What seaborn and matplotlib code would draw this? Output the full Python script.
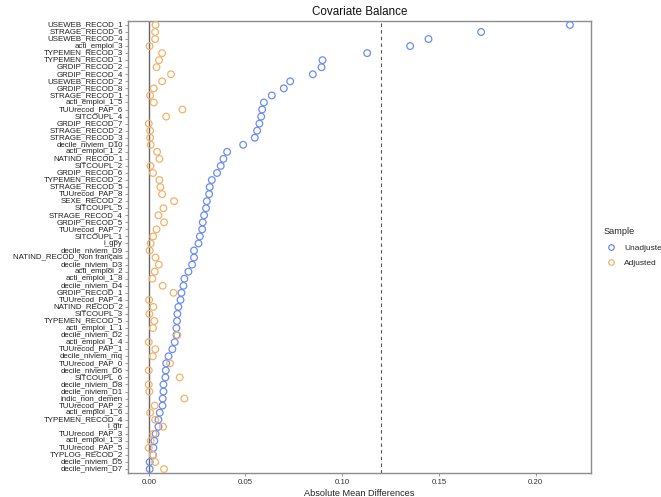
import pandas as pd
import matplotlib
matplotlib.use("Agg")
import matplotlib.pyplot as plt
from matplotlib.lines import Line2D
import seaborn as sns

covariates = [
    "USEWEB_RECOD_1", "STRAGE_RECOD_6", "USEWEB_RECOD_4", "acti_emploi_3",
    "TYPEMEN_RECOD_3", "TYPEMEN_RECOD_1", "GRDIP_RECOD_2", "GRDIP_RECOD_4",
    "USEWEB_RECOD_2", "GRDIP_RECOD_8", "STRAGE_RECOD_1", "acti_emploi_1_5",
    "TUUrecod_PAP_6", "SITCOUPL_4", "GRDIP_RECOD_7", "STRAGE_RECOD_2",
    "STRAGE_RECOD_3", "decile_niviem_D10", "acti_emploi_1_2", "NATIND_RECOD_1",
    "SITCOUPL_2", "GRDIP_RECOD_6", "TYPEMEN_RECOD_2", "STRAGE_RECOD_5",
    "TUUrecod_PAP_8", "SEXE_RECOD_2", "SITCOUPL_5", "STRAGE_RECOD_4",
    "GRDIP_RECOD_5", "TUUrecod_PAP_7", "SITCOUPL_1", "i_gpy",
    "decile_niviem_D9", "NATIND_RECOD_Non français", "decile_niviem_D3", "acti_emploi_2",
    "acti_emploi_1_8", "decile_niviem_D4", "GRDIP_RECOD_1", "TUUrecod_PAP_4",
    "NATIND_RECOD_2", "SITCOUPL_3", "TYPEMEN_RECOD_5", "acti_emploi_1_1",
    "decile_niviem_D2", "acti_emploi_1_4", "TUUrecod_PAP_1", "decile_niviem_mq",
    "TUUrecod_PAP_0", "decile_niviem_D6", "SITCOUPL_6", "decile_niviem_D8",
    "decile_niviem_D1", "indic_non_demen", "TUUrecod_PAP_2", "acti_emploi_1_6",
    "TYPEMEN_RECOD_4", "i_gtr", "TUUrecod_PAP_3", "acti_emploi_1_3",
    "TUUrecod_PAP_5", "TYPLOG_RECOD_2", "decile_niviem_D5", "decile_niviem_D7",
]

unadjusted = [
    0.2177, 0.1718, 0.1446, 0.1351, 0.1129, 0.0898, 0.0893, 0.0848,
    0.0731, 0.0698, 0.0636, 0.0595, 0.0586, 0.0581, 0.0572, 0.0560,
    0.0548, 0.0488, 0.0405, 0.0386, 0.0372, 0.0353, 0.0326, 0.0315,
    0.0312, 0.0300, 0.0296, 0.0286, 0.0279, 0.0276, 0.0264, 0.0257,
    0.0234, 0.0234, 0.0224, 0.0205, 0.0184, 0.0179, 0.0169, 0.0164,
    0.0153, 0.0148, 0.0146, 0.0143, 0.0143, 0.0134, 0.0122, 0.0102,
    0.0090, 0.0088, 0.0086, 0.0076, 0.0076, 0.0072, 0.0071, 0.0057,
    0.0050, 0.0050, 0.0035, 0.0029, 0.0024, 0.0022, 0.0005, 0.0005,
]

adjusted = [
    0.0035, 0.0033, 0.0033, 0.0004, 0.0069, 0.0053, 0.0040, 0.0115,
    0.0069, 0.0026, 0.0007, 0.0026, 0.0174, 0.0090, 0.0000, 0.0007,
    0.0007, 0.0010, 0.0043, 0.0055, 0.0009, 0.0022, 0.0055, 0.0060,
    0.0069, 0.0131, 0.0076, 0.0050, 0.0079, 0.0040, 0.0023, 0.0010,
    0.0005, 0.0035, 0.0052, 0.0031, 0.0019, 0.0072, 0.0128, 0.0002,
    0.0024, 0.0003, 0.0029, 0.0022, 0.0148, 0.0000, 0.0034, 0.0021,
    0.0110, 0.0000, 0.0160, 0.0000, 0.0003, 0.0184, 0.0031, 0.0007,
    0.0033, 0.0074, 0.0024, 0.0010, 0.0000, 0.0020, 0.0033, 0.0079,
]

samples = ["Unadjusted", "Adjusted"]
colors = ["#6b8cf0", "#f2b26a"]
threshold = 0.12

df = pd.DataFrame({
    "covariate": covariates * 2,
    "diff": unadjusted + adjusted,
    "Sample": [samples[0]] * len(covariates) + [samples[1]] * len(covariates),
})

sns.set_style("white")
plt.rcParams["font.family"] = ["Liberation Sans", "DejaVu Sans"]

W, H = 661, 497
fig = plt.figure(figsize=(W / 100, H / 100), dpi=100)
left, right, top, bottom = 127.7, 591, 20.7, 473.3
ax = fig.add_axes([left / W, 1 - bottom / H, (right - left) / W, (bottom - top) / H])

ax.axvline(0, color="#666666", lw=1, zorder=1)
ax.axvline(threshold, color="#555555", lw=0.8, ls=(0, (3, 3)), zorder=1)

sns.stripplot(data=df, x="diff", y="covariate", hue="Sample", hue_order=samples,
              palette=colors, jitter=False, dodge=False, size=4.8,
              order=covariates, legend=False, ax=ax, zorder=3)

# hollow circles
for coll in ax.collections:
    fc = coll.get_facecolors()
    coll.set_edgecolors(fc)
    coll.set_facecolors("none")
    coll.set_linewidths(0.9)

xmax = max(unadjusted + adjusted)
ax.set_xlim(-0.05 * xmax, 1.05 * xmax)
ax.set_ylim(len(covariates) - 0.4, -0.6)
ax.set_xticks([0, 0.05, 0.10, 0.15, 0.20])
ax.set_xticklabels(["0.00", "0.05", "0.10", "0.15", "0.20"])

for s in ax.spines.values():
    s.set_color("#8c8c8c")
    s.set_linewidth(1)

ax.tick_params(axis="y", labelsize=5.7, length=2, width=0.6, pad=1.5, colors="#8c8c8c",
               labelcolor="#222222", left=True)
ax.tick_params(axis="x", labelsize=5.7, length=2, width=0.6, pad=2, colors="#8c8c8c",
               labelcolor="#333333", bottom=True)
for lab in ax.get_yticklabels():
    lab.set_va("center")

ax.set_ylabel("")
ax.set_xlabel("Absolute Mean Differences", fontsize=6.6, color="#222222", labelpad=2)
ax.set_title("Covariate Balance", fontsize=8.4, color="#111111", pad=4)

handles = [Line2D([], [], ls="", marker="o", markersize=4, markerfacecolor="none",
                  markeredgecolor=c, markeredgewidth=0.9) for c in colors]
leg = fig.legend(handles, samples, title="Sample", loc="center left",
                 bbox_to_anchor=(604 / W, 1 - 247 / H), frameon=False,
                 fontsize=6, title_fontsize=6.6, handletextpad=0.8,
                 labelspacing=0.9, borderaxespad=0, borderpad=0, handlelength=1.6)
leg._legend_box.align = "left"

fig.savefig("out.png", dpi=100)
